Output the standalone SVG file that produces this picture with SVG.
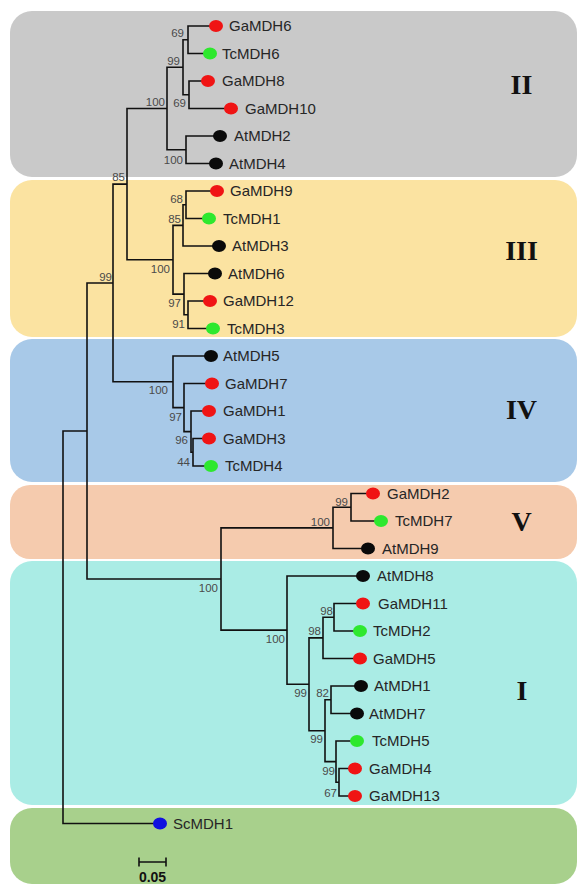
<svg xmlns="http://www.w3.org/2000/svg" width="577" height="884" viewBox="0 0 577 884">
<style>
.leaf{font-family:"Liberation Sans",Arial,sans-serif;font-size:15px;fill:#262626}
.bs{font-family:"Liberation Sans",Arial,sans-serif;font-size:11.5px;fill:#4a4a4a;text-anchor:end}
.rn{font-family:"Liberation Serif","Times New Roman",serif;font-size:28px;font-weight:bold;fill:#111;text-anchor:middle}
.br{fill:none;stroke:#111;stroke-width:1.6}
.r{fill:#f01414}.g{fill:#2ee82e}.k{fill:#0a0a0a}.b{fill:#1010e0}
</style>
<rect width="577" height="884" fill="#ffffff"/>
<g id="panels">
<rect x="10" y="11" width="567" height="166" rx="22" fill="#c9c9c9"/>
<rect x="10" y="180" width="567" height="157" rx="22" fill="#fbe3a1"/>
<rect x="10" y="339" width="567" height="143" rx="22" fill="#a8c9e8"/>
<rect x="10" y="485" width="567" height="74" rx="20" fill="#f5cbae"/>
<rect x="10" y="561" width="567" height="244" rx="22" fill="#aaece5"/>
<rect x="10" y="808" width="567" height="76" rx="22" fill="#a8d08c"/>
</g>
<g id="clade-labels">
<text class="rn" x="521.5" y="94">II</text>
<text class="rn" x="521.5" y="260">III</text>
<text class="rn" x="521.5" y="419">IV</text>
<text class="rn" x="521.5" y="531">V</text>
<text class="rn" x="522" y="700">I</text>
</g>
<g id="connectors" class="br">
<path d="M216,26 H188 V53.5 H210"/>
<path d="M208,81 H189 V108.5 H231"/>
<path d="M188,39.75 H183 V94.75 H189"/>
<path d="M220,136 H186 V163.5 H216"/>
<path d="M183,67.25 H167 V149.75 H186"/>
<path d="M217,191 H186 V218.5 H209"/>
<path d="M186,204.75 H183 V246 H219"/>
<path d="M210,301 H188 V328.5 H213"/>
<path d="M215,273.5 H184 V314.75 H188"/>
<path d="M183,225.4 H173 V294.1 H184"/>
<path d="M167,108.5 H127 V259.75 H173"/>
<path d="M209,438.5 H193 V466 H211"/>
<path d="M209,411 H191 V452.25 H193"/>
<path d="M212,383.5 H184 V431.6 H191"/>
<path d="M211,356 H173 V407.6 H184"/>
<path d="M127,184.1 H113 V381.8 H173"/>
<path d="M373,493.5 H351 V521 H381"/>
<path d="M351,507.25 H333 V548.5 H368"/>
<path d="M363,603.5 H334 V631 H360"/>
<path d="M334,617.25 H323 V658.5 H360"/>
<path d="M361,686 H331 V713.5 H357"/>
<path d="M355,768.5 H339 V796 H355"/>
<path d="M357,741 H336 V782.25 H339"/>
<path d="M331,699.75 H325 V761.6 H336"/>
<path d="M323,637.9 H309 V730.7 H325"/>
<path d="M363,576 H287 V684.3 H309"/>
<path d="M333,527.9 H221 V630.1 H287"/>
<path d="M113,283 H87 V579 H221"/>
<path d="M87,431 H63 V823.5 H161"/>
</g>
<g id="bootstrap">
<text class="bs" x="184" y="37">69</text>
<text class="bs" x="180" y="65">99</text>
<text class="bs" x="165" y="106">100</text>
<text class="bs" x="186" y="107">69</text>
<text class="bs" x="183" y="164">100</text>
<text class="bs" x="125" y="181">85</text>
<text class="bs" x="183" y="203">68</text>
<text class="bs" x="181" y="223">85</text>
<text class="bs" x="170" y="273">100</text>
<text class="bs" x="112" y="281">99</text>
<text class="bs" x="181" y="307">97</text>
<text class="bs" x="185" y="328">91</text>
<text class="bs" x="168" y="394">100</text>
<text class="bs" x="182" y="421">97</text>
<text class="bs" x="188" y="444">96</text>
<text class="bs" x="190" y="466">44</text>
<text class="bs" x="348" y="506">99</text>
<text class="bs" x="330" y="526">100</text>
<text class="bs" x="218" y="592">100</text>
<text class="bs" x="333" y="615">98</text>
<text class="bs" x="321" y="635">98</text>
<text class="bs" x="285" y="643">100</text>
<text class="bs" x="307" y="697">99</text>
<text class="bs" x="329" y="697">82</text>
<text class="bs" x="323" y="743">99</text>
<text class="bs" x="335" y="775">99</text>
<text class="bs" x="337" y="797">67</text>
</g>
<g id="GaMDH6"><ellipse class="r" cx="216" cy="26" rx="7" ry="6"/><text class="leaf" x="229" y="31">GaMDH6</text></g>
<g id="TcMDH6"><ellipse class="g" cx="210" cy="53.5" rx="7" ry="6"/><text class="leaf" x="222" y="58.5">TcMDH6</text></g>
<g id="GaMDH8"><ellipse class="r" cx="208" cy="81" rx="7" ry="6"/><text class="leaf" x="222" y="86">GaMDH8</text></g>
<g id="GaMDH10"><ellipse class="r" cx="231" cy="108.5" rx="7" ry="6"/><text class="leaf" x="245" y="113.5">GaMDH10</text></g>
<g id="AtMDH2"><ellipse class="k" cx="220" cy="136" rx="7" ry="6"/><text class="leaf" x="234" y="141">AtMDH2</text></g>
<g id="AtMDH4"><ellipse class="k" cx="216" cy="163.5" rx="7" ry="6"/><text class="leaf" x="229" y="168.5">AtMDH4</text></g>
<g id="GaMDH9"><ellipse class="r" cx="217" cy="191" rx="7" ry="6"/><text class="leaf" x="230" y="196">GaMDH9</text></g>
<g id="TcMDH1"><ellipse class="g" cx="209" cy="218.5" rx="7" ry="6"/><text class="leaf" x="223" y="223.5">TcMDH1</text></g>
<g id="AtMDH3"><ellipse class="k" cx="219" cy="246" rx="7" ry="6"/><text class="leaf" x="232" y="251">AtMDH3</text></g>
<g id="AtMDH6"><ellipse class="k" cx="215" cy="273.5" rx="7" ry="6"/><text class="leaf" x="228" y="278.5">AtMDH6</text></g>
<g id="GaMDH12"><ellipse class="r" cx="210" cy="301" rx="7" ry="6"/><text class="leaf" x="223" y="306">GaMDH12</text></g>
<g id="TcMDH3"><ellipse class="g" cx="213" cy="328.5" rx="7" ry="6"/><text class="leaf" x="227" y="333.5">TcMDH3</text></g>
<g id="AtMDH5"><ellipse class="k" cx="211" cy="356" rx="7" ry="6"/><text class="leaf" x="223" y="361">AtMDH5</text></g>
<g id="GaMDH7"><ellipse class="r" cx="212" cy="383.5" rx="7" ry="6"/><text class="leaf" x="225" y="388.5">GaMDH7</text></g>
<g id="GaMDH1"><ellipse class="r" cx="209" cy="411" rx="7" ry="6"/><text class="leaf" x="223" y="416">GaMDH1</text></g>
<g id="GaMDH3"><ellipse class="r" cx="209" cy="438.5" rx="7" ry="6"/><text class="leaf" x="223" y="443.5">GaMDH3</text></g>
<g id="TcMDH4"><ellipse class="g" cx="211" cy="466" rx="7" ry="6"/><text class="leaf" x="225" y="471">TcMDH4</text></g>
<g id="GaMDH2"><ellipse class="r" cx="373" cy="493.5" rx="7" ry="6"/><text class="leaf" x="387" y="498.5">GaMDH2</text></g>
<g id="TcMDH7"><ellipse class="g" cx="381" cy="521" rx="7" ry="6"/><text class="leaf" x="395" y="526">TcMDH7</text></g>
<g id="AtMDH9"><ellipse class="k" cx="368" cy="548.5" rx="7" ry="6"/><text class="leaf" x="382" y="553.5">AtMDH9</text></g>
<g id="AtMDH8"><ellipse class="k" cx="363" cy="576" rx="7" ry="6"/><text class="leaf" x="377" y="581">AtMDH8</text></g>
<g id="GaMDH11"><ellipse class="r" cx="363" cy="603.5" rx="7" ry="6"/><text class="leaf" x="378" y="608.5">GaMDH11</text></g>
<g id="TcMDH2"><ellipse class="g" cx="360" cy="631" rx="7" ry="6"/><text class="leaf" x="373" y="636">TcMDH2</text></g>
<g id="GaMDH5"><ellipse class="r" cx="360" cy="658.5" rx="7" ry="6"/><text class="leaf" x="373" y="663.5">GaMDH5</text></g>
<g id="AtMDH1"><ellipse class="k" cx="361" cy="686" rx="7" ry="6"/><text class="leaf" x="374" y="691">AtMDH1</text></g>
<g id="AtMDH7"><ellipse class="k" cx="357" cy="713.5" rx="7" ry="6"/><text class="leaf" x="369" y="718.5">AtMDH7</text></g>
<g id="TcMDH5"><ellipse class="g" cx="357" cy="741" rx="7" ry="6"/><text class="leaf" x="372" y="746">TcMDH5</text></g>
<g id="GaMDH4"><ellipse class="r" cx="355" cy="768.5" rx="7" ry="6"/><text class="leaf" x="369" y="773.5">GaMDH4</text></g>
<g id="GaMDH13"><ellipse class="r" cx="355" cy="796" rx="7" ry="6"/><text class="leaf" x="369" y="801">GaMDH13</text></g>
<g id="ScMDH1"><ellipse class="b" cx="160" cy="823.5" rx="7" ry="6"/><text class="leaf" x="173" y="828.5">ScMDH1</text></g>
<g id="scale-bar">
<path d="M139,862 H166 M139,857.5 V866.5 M166,857.5 V866.5" fill="none" stroke="#111" stroke-width="1.6"/>
<text x="152.5" y="882" text-anchor="middle" font-family="Liberation Sans, Arial, sans-serif" font-size="14" font-weight="bold" fill="#111">0.05</text>
</g>
</svg>
